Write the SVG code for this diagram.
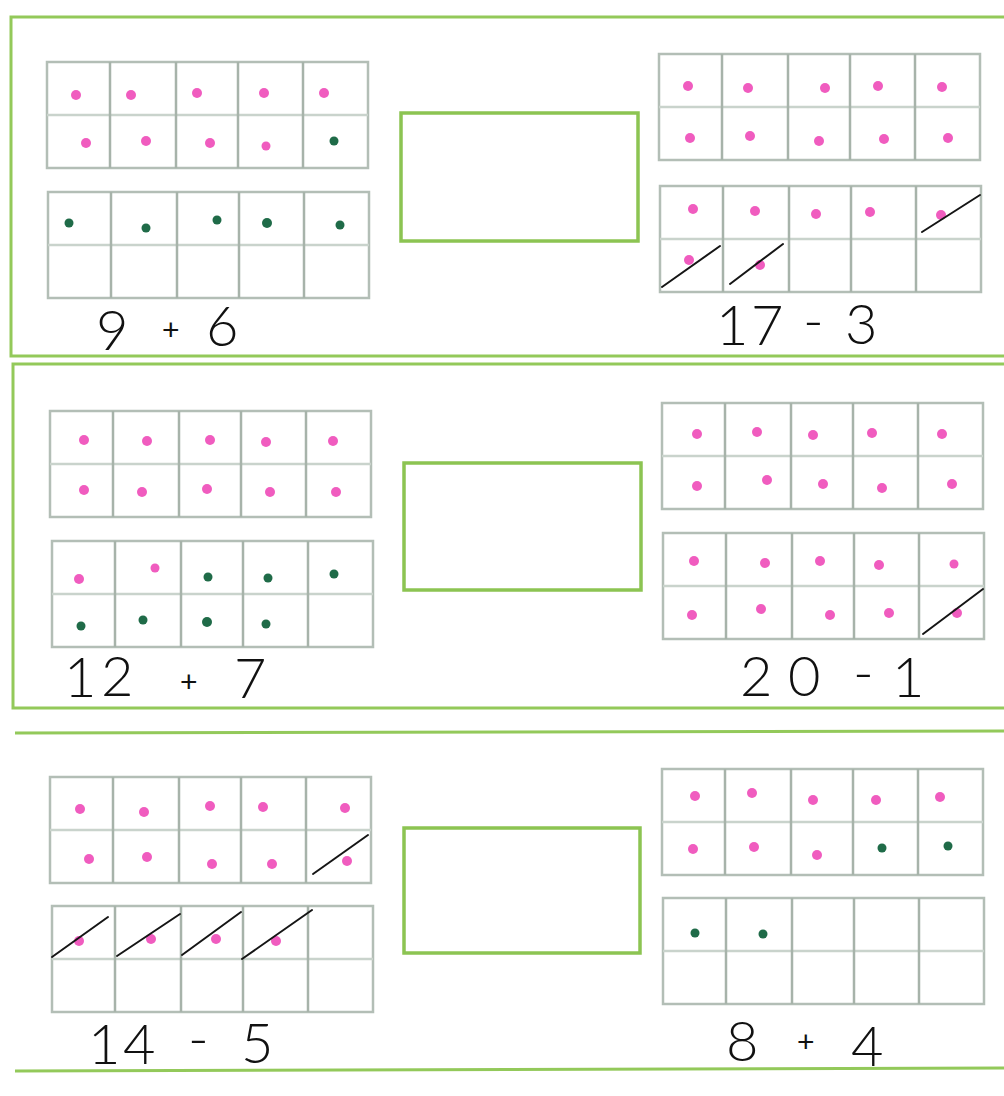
<svg xmlns="http://www.w3.org/2000/svg" xmlns:xlink="http://www.w3.org/1999/xlink" width="1004" height="1096" viewBox="0 0 1004 1096">
<style>
.frame{fill:none;stroke:#93c95a;stroke-width:3}
.ans{fill:#ffffff;stroke:#8cc452;stroke-width:3.5}
.tfo{fill:#ffffff;stroke:#b3beb6;stroke-width:2.5}
.tfv{stroke:#a7b3aa;stroke-width:2.5}
.tfh{stroke:#c9d3cc;stroke-width:2.5}
.p{fill:#f05cbf}
.g{fill:#1f6b48}
.x{stroke:#151515;stroke-width:2;fill:none;stroke-linecap:round}
.lbl{font-family:Lato,"Liberation Sans",sans-serif;font-weight:300;font-size:56px;fill:#111}
.pl{font-family:"Liberation Sans",sans-serif;font-weight:400;font-size:30px;fill:#111}
</style>
<defs>
<g id="tf">
<rect class="tfo" x="0" y="0" width="321" height="106"/>
<line class="tfh" x1="0" y1="53" x2="321" y2="53"/>
<line class="tfv" x1="63" y1="0" x2="63" y2="106"/>
<line class="tfv" x1="129" y1="0" x2="129" y2="106"/>
<line class="tfv" x1="191" y1="0" x2="191" y2="106"/>
<line class="tfv" x1="256" y1="0" x2="256" y2="106"/>
</g>
</defs>
<rect width="1004" height="1096" fill="#ffffff"/>

<g id="section1">
<path class="frame" d="M1004,17 H11 V356 H1004"/>
<use xlink:href="#tf" x="47" y="62"/>
<use xlink:href="#tf" x="48" y="192"/>
<rect class="ans" x="401" y="113" width="237" height="128"/>
<use xlink:href="#tf" x="659" y="54"/>
<use xlink:href="#tf" x="660" y="186"/>
<g class="p">
<circle cx="76" cy="95" r="5"/><circle cx="131" cy="95" r="5"/><circle cx="197" cy="93" r="5"/><circle cx="264" cy="93" r="5"/><circle cx="324" cy="93" r="5"/>
<circle cx="86" cy="143" r="5"/><circle cx="146" cy="141" r="5"/><circle cx="210" cy="143" r="5"/><circle cx="266" cy="146" r="4.5"/>
<circle cx="688" cy="86" r="5"/><circle cx="748" cy="88" r="5"/><circle cx="825" cy="88" r="5"/><circle cx="878" cy="86" r="5"/><circle cx="942" cy="87" r="5"/>
<circle cx="690" cy="138" r="5"/><circle cx="750" cy="136" r="5"/><circle cx="819" cy="141" r="5"/><circle cx="884" cy="139" r="5"/><circle cx="948" cy="138" r="5"/>
<circle cx="693" cy="209" r="5"/><circle cx="755" cy="211" r="5"/><circle cx="816" cy="214" r="5"/><circle cx="870" cy="212" r="5"/><circle cx="941" cy="215" r="5"/>
<circle cx="689" cy="260" r="5"/><circle cx="760" cy="265" r="5"/>
</g>
<g class="g">
<circle cx="334" cy="141" r="4.5"/>
<circle cx="69" cy="223" r="4.5"/><circle cx="146" cy="228" r="4.5"/><circle cx="217" cy="220" r="4.5"/><circle cx="267" cy="223" r="5"/><circle cx="340" cy="225" r="4.5"/>
</g>
<g class="x">
<line x1="662" y1="287" x2="720" y2="246"/>
<line x1="730" y1="284" x2="783" y2="244"/>
<line x1="922" y1="232" x2="980" y2="195"/>
</g>
<text class="lbl"><tspan x="96" y="350">9</tspan><tspan class="pl" x="162" y="340">+</tspan><tspan x="206" y="346">6</tspan></text>
<text class="lbl"><tspan x="716" y="345">1</tspan><tspan x="751" y="345">7</tspan><tspan x="803" y="340">-</tspan><tspan x="845" y="344">3</tspan></text>
</g>

<g id="section2">
<path class="frame" d="M1004,364 H13 V708 H1004"/>
<use xlink:href="#tf" x="50" y="411"/>
<use xlink:href="#tf" x="52" y="541"/>
<rect class="ans" x="404" y="463" width="237" height="127"/>
<use xlink:href="#tf" x="662" y="403"/>
<use xlink:href="#tf" x="663" y="533"/>
<g class="p">
<circle cx="84" cy="440" r="5"/><circle cx="147" cy="441" r="5"/><circle cx="210" cy="440" r="5"/><circle cx="266" cy="442" r="5"/><circle cx="333" cy="441" r="5"/>
<circle cx="84" cy="490" r="5"/><circle cx="142" cy="492" r="5"/><circle cx="207" cy="489" r="5"/><circle cx="270" cy="492" r="5"/><circle cx="336" cy="492" r="5"/>
<circle cx="79" cy="579" r="5"/><circle cx="155" cy="568" r="4.5"/>
<circle cx="697" cy="434" r="5"/><circle cx="757" cy="432" r="5"/><circle cx="813" cy="435" r="5"/><circle cx="872" cy="433" r="5"/><circle cx="942" cy="434" r="5"/>
<circle cx="697" cy="486" r="5"/><circle cx="767" cy="480" r="5"/><circle cx="823" cy="484" r="5"/><circle cx="882" cy="488" r="5"/><circle cx="952" cy="484" r="5"/>
<circle cx="694" cy="561" r="5"/><circle cx="765" cy="563" r="5"/><circle cx="820" cy="561" r="5"/><circle cx="879" cy="565" r="5"/><circle cx="954" cy="564" r="4.5"/>
<circle cx="692" cy="615" r="5"/><circle cx="761" cy="609" r="5"/><circle cx="830" cy="615" r="5"/><circle cx="889" cy="613" r="5"/><circle cx="957" cy="613" r="5"/>
</g>
<g class="g">
<circle cx="208" cy="577" r="4.5"/><circle cx="268" cy="578" r="4.5"/><circle cx="334" cy="574" r="4.5"/>
<circle cx="81" cy="626" r="4.5"/><circle cx="143" cy="620" r="4.5"/><circle cx="207" cy="622" r="5"/><circle cx="266" cy="624" r="4.5"/>
</g>
<g class="x">
<line x1="923" y1="634" x2="983" y2="589"/>
</g>
<text class="lbl"><tspan x="64" y="697">1</tspan><tspan x="101" y="696">2</tspan><tspan class="pl" x="180" y="692" font-size="26">+</tspan><tspan x="234" y="698">7</tspan></text>
<text class="lbl"><tspan x="740" y="696">2</tspan><tspan x="788" y="696">0</tspan><tspan x="853" y="692">-</tspan><tspan x="892" y="697">1</tspan></text>
</g>

<g id="section3">
<line class="frame" x1="15" y1="733" x2="1004" y2="731"/>
<line class="frame" x1="15" y1="1071" x2="1004" y2="1068"/>
<use xlink:href="#tf" x="50" y="777"/>
<use xlink:href="#tf" x="52" y="906"/>
<rect class="ans" x="404" y="828" width="236" height="125"/>
<use xlink:href="#tf" x="662" y="769"/>
<use xlink:href="#tf" x="663" y="898"/>
<g class="p">
<circle cx="80" cy="809" r="5"/><circle cx="144" cy="812" r="5"/><circle cx="210" cy="806" r="5"/><circle cx="263" cy="807" r="5"/><circle cx="345" cy="808" r="5"/>
<circle cx="89" cy="859" r="5"/><circle cx="147" cy="857" r="5"/><circle cx="212" cy="864" r="5"/><circle cx="272" cy="864" r="5"/><circle cx="347" cy="861" r="5"/>
<circle cx="79" cy="941" r="5"/><circle cx="151" cy="939" r="5"/><circle cx="216" cy="939" r="5"/><circle cx="276" cy="941" r="5"/>
<circle cx="695" cy="796" r="5"/><circle cx="752" cy="793" r="5"/><circle cx="813" cy="800" r="5"/><circle cx="876" cy="800" r="5"/><circle cx="940" cy="797" r="5"/>
<circle cx="693" cy="849" r="5"/><circle cx="754" cy="847" r="5"/><circle cx="817" cy="855" r="5"/>
</g>
<g class="g">
<circle cx="882" cy="848" r="4.5"/><circle cx="948" cy="846" r="4.5"/>
<circle cx="695" cy="933" r="4.5"/><circle cx="763" cy="934" r="4.5"/>
</g>
<g class="x">
<line x1="313" y1="874" x2="368" y2="835"/>
<line x1="52" y1="957" x2="108" y2="917"/>
<line x1="117" y1="956" x2="180" y2="914"/>
<line x1="182" y1="955" x2="241" y2="912"/>
<line x1="242" y1="959" x2="312" y2="910"/>
</g>
<text class="lbl"><tspan x="88" y="1064">1</tspan><tspan x="123" y="1064">4</tspan><tspan x="188" y="1058">-</tspan><tspan x="241" y="1063">5</tspan></text>
<text class="lbl"><tspan x="726" y="1061">8</tspan><tspan class="pl" x="797" y="1052">+</tspan><tspan x="851" y="1066">4</tspan></text>
</g>
</svg>
